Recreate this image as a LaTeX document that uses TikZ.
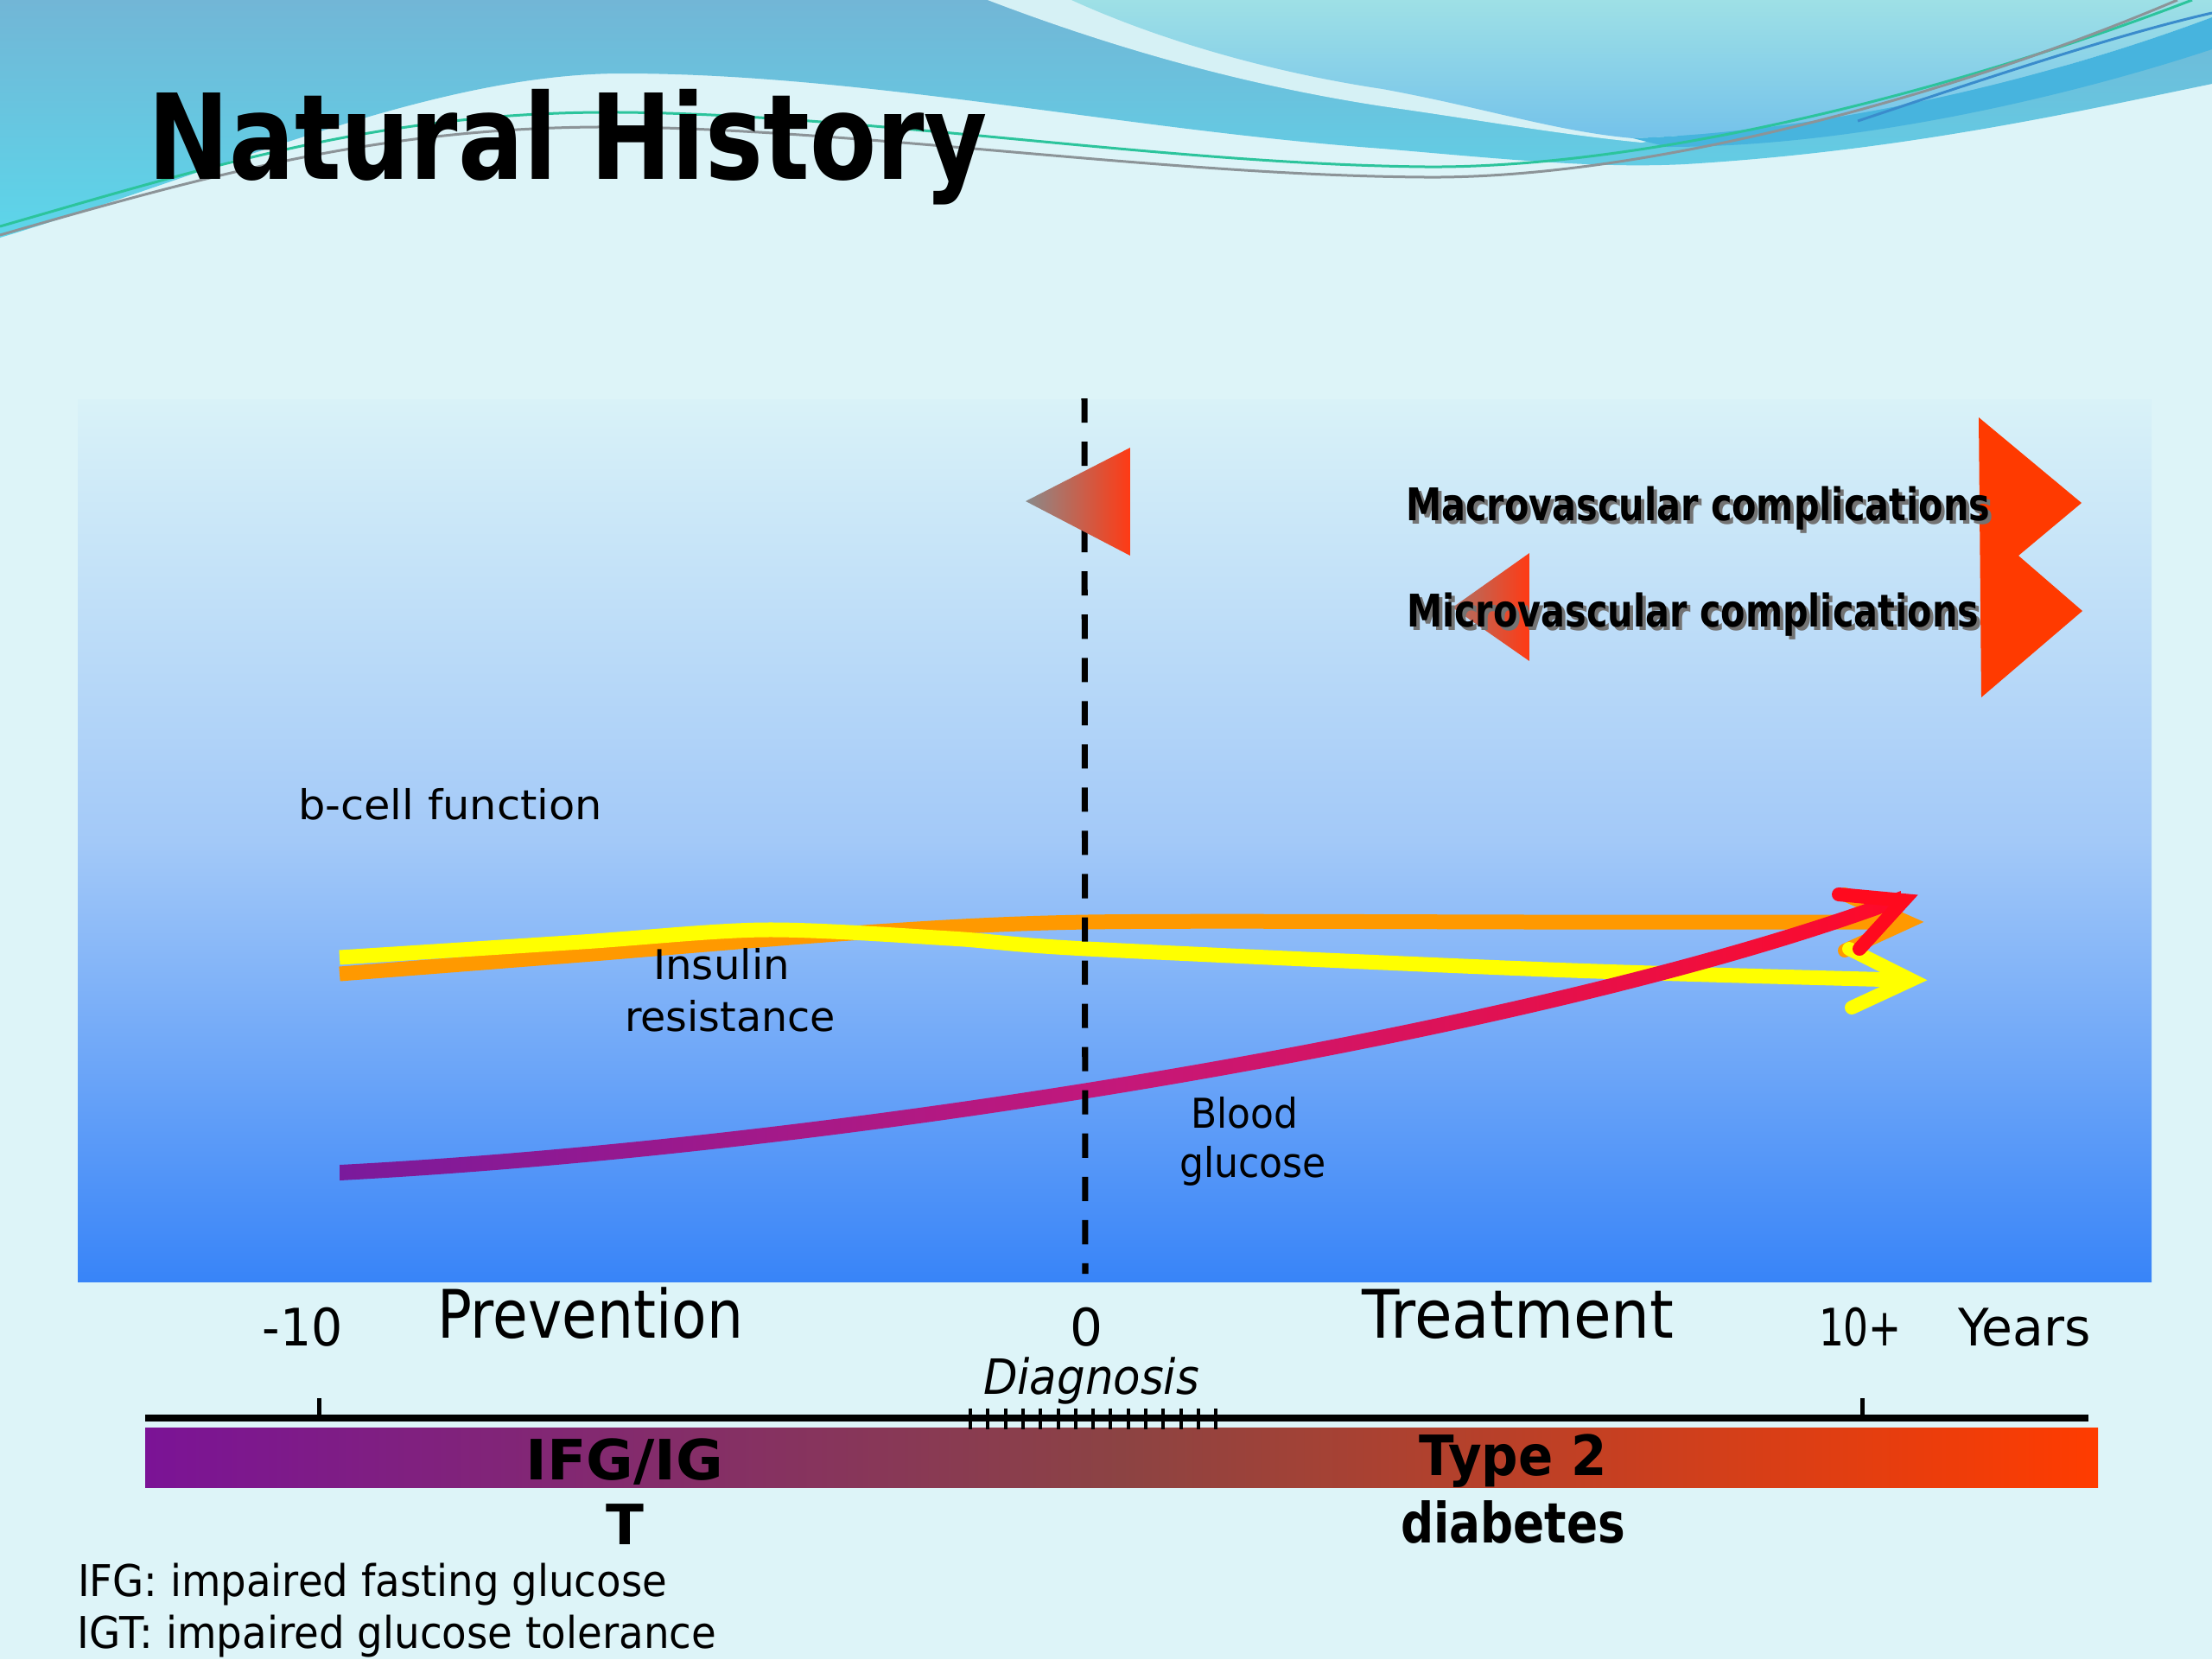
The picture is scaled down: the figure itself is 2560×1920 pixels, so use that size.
\documentclass[tikz,border=0pt]{standalone}
\usepackage{fontspec}
\setmainfont{DejaVu Sans}
\usepackage{graphicx}
\newdimen\pxu \pxu=0.01cm
\newcommand\fitw[2]{\resizebox{#1\pxu}{\height}{#2}}
\definecolor{bgc}{HTML}{DDF4F8}
\definecolor{topblue}{HTML}{72B6D6}
\definecolor{topcyan}{HTML}{5CD6EA}
\definecolor{stripec}{HTML}{D6F1F5}
\definecolor{tealtop}{HTML}{9EE0E6}
\definecolor{tealbot}{HTML}{74C2EA}
\definecolor{darkband}{HTML}{47B4DE}
\definecolor{wavegreen}{HTML}{2CC49C}
\definecolor{wavegrey}{HTML}{8C9498}
\definecolor{waveblue}{HTML}{3A8CCC}
\definecolor{pantop}{HTML}{D9F2F8}
\definecolor{panmid}{HTML}{A3C9F8}
\definecolor{panbot}{HTML}{3884F8}
\definecolor{trigray}{HTML}{8A8A8A}
\definecolor{trired}{HTML}{FF3A14}
\definecolor{bigred}{HTML}{FF3A00}
\definecolor{orangec}{HTML}{FF9900}
\definecolor{yellowc}{HTML}{FFFF00}
\definecolor{glul}{HTML}{7A1A9C}
\definecolor{glum}{HTML}{C4187A}
\definecolor{glur}{HTML}{FF0A28}
\definecolor{arrred}{HTML}{FF0A1E}
\definecolor{barl}{HTML}{7B1396}
\definecolor{barm}{HTML}{8C4343}
\definecolor{barr}{HTML}{FF3C00}
\begin{document}
\begin{tikzpicture}[x=0.01cm,y=-0.01cm,
  lbl/.style={inner sep=0pt, outer sep=0pt, text=black},
  curve/.style={line width=17\pxu, line cap=butt},
  head/.style={line width=16\pxu, line cap=round, line join=miter},
  fsize/.style={font=\fontsize{#1}{#1}\selectfont},
  fbold/.style={font=\fontsize{#1}{#1}\selectfont\bfseries}]
\useasboundingbox (0,0) rectangle (2560,1920);
\fill[bgc] (0,0) rectangle (2560,1920);
% top waves
\shade[top color=topblue, bottom color=topcyan] (0,0) -- (0,275)
  .. controls (250,200) and (500,85) .. (720,85)
  .. controls (1000,85) and (1300,150) .. (1600,172)
  .. controls (1750,185) and (1850,195) .. (1950,190)
  .. controls (2200,175) and (2400,130) .. (2560,97) -- (2560,0) -- cycle;
\fill[stripec] (1143,0) .. controls (1300,60) and (1450,100) .. (1600,123)
  .. controls (1720,140) and (1800,155) .. (1900,165) -- (2560,45) -- (2560,0) -- cycle;
\shade[top color=tealtop, bottom color=tealbot] (1240,0)
  .. controls (1350,50) and (1480,85) .. (1600,103)
  .. controls (1720,125) and (1800,152) .. (1890,160)
  .. controls (2150,150) and (2400,80) .. (2560,20) -- (2560,0) -- cycle;
\fill[darkband] (1890,160) .. controls (2150,150) and (2400,80) .. (2560,20)
  -- (2560,57) .. controls (2400,110) and (2150,170) .. (1930,170) -- cycle;
\draw[wavegreen, line width=3\pxu] (0,262) .. controls (250,190) and (450,128) .. (718,130)
  .. controls (1000,132) and (1350,190) .. (1650,193)
  .. controls (1900,195) and (2250,110) .. (2537,0);
\draw[wavegrey, line width=3\pxu] (0,272) .. controls (250,200) and (450,145) .. (718,147)
  .. controls (1000,150) and (1350,203) .. (1650,205)
  .. controls (1900,207) and (2250,115) .. (2520,0);
\draw[waveblue, line width=3\pxu] (2150,140) .. controls (2300,90) and (2450,40) .. (2560,15);
\node[lbl, anchor=base west, fbold=39] (title) at (171,207) {\fitw{972}{Natural History}};
% panel
\shade[top color=pantop, bottom color=panbot, middle color=panmid] (90,462) rectangle (2490,1483);
% curves
\draw[curve, orangec] plot[smooth] coordinates {(393,1127) (673,1105) (984,1080) (1258,1067) (1792,1067) (2195,1067)};
\draw[head, orangec] (2135,1035) -- (2207,1067) -- (2135,1100);
\draw[curve, yellowc] plot[smooth] coordinates {(393,1108) (673,1090) (885,1076) (1100,1086) (1258,1098) (1792,1122) (2200,1134)};
\draw[head, yellowc] (2140,1098) -- (2212,1134) -- (2143,1166);
\shade[left color=glul, right color=glur, middle color=glum] (393,1348)
  .. controls (1000,1316) and (1800,1181) .. (2200,1031) -- (2200,1049)
  .. controls (1800,1199) and (1000,1334) .. (393,1366) -- cycle;
\draw[head, arrred] (2128,1035) -- (2203,1042) -- (2152,1098);
% diagnosis dashed line
\draw[line width=2pt, dash pattern=on 7.97pt off 6.26pt] (1255,461) -- (1256,1474);
% complication triangles
\shade[left color=trigray, right color=trired] (1187,580) -- (1308,518) -- (1308,643) -- cycle;
\shade[left color=trigray!70!trired, right color=trired] (1681,703) -- (1770,640) -- (1770,765) -- cycle;
\fill[bigred] (2290,483) -- (2409,582) -- (2336,643) -- (2410,707) -- (2293,807) -- cycle;
\node[lbl, anchor=base west, fbold=14.8, text=black!55] (macrosh) at (1631,606) {\fitw{676}{Macrovascular complications}};
\node[lbl, anchor=base west, fbold=14.8] (macro) at (1627,602) {\fitw{676}{Macrovascular complications}};
\node[lbl, anchor=base west, fbold=14.8, text=black!55] (microsh) at (1632,729) {\fitw{662}{Microvascular complications}};
\node[lbl, anchor=base west, fbold=14.8] (micro) at (1628,725) {\fitw{662}{Microvascular complications}};
% curve labels
\node[lbl, anchor=base west, fsize=13.5] (bcell) at (345,948) {\fitw{352}{b-cell function}};
\node[lbl, anchor=base, fsize=13.5] (ins1) at (835,1133) {\fitw{158}{Insulin}};
\node[lbl, anchor=base, fsize=13.5] (ins2) at (845,1193) {\fitw{244}{resistance}};
\node[lbl, anchor=base, fsize=13.5] (bg1) at (1440,1305) {\fitw{124}{Blood}};
\node[lbl, anchor=base, fsize=13.5] (bg2) at (1450,1362) {\fitw{170}{glucose}};
% timeline labels
\node[lbl, anchor=base, fsize=17] (m10) at (350,1557) {\fitw{93}{-10}};
\node[lbl, anchor=base, fsize=22] (prev) at (683,1548) {\fitw{354}{Prevention}};
\node[lbl, anchor=base, fsize=17] (zero) at (1258,1557) {0};
\node[lbl, anchor=base, fsize=22] (treat) at (1757,1548) {\fitw{361}{Treatment}};
\node[lbl, anchor=base, fsize=17] (ten) at (2153,1557) {\fitw{96}{10+}};
\node[lbl, anchor=base, fsize=17] (years) at (2343,1557) {\fitw{154}{Years}};
\node[lbl, anchor=base, font=\fontsize{16}{16}\selectfont\itshape] (diag) at (1263,1613) {\fitw{250}{Diagnosis}};
% axis
\draw[line width=8\pxu] (168,1641) -- (2417,1641);
\draw[line width=5\pxu] (369,1618) -- (369,1641);
\draw[line width=5\pxu] (2155,1618) -- (2155,1641);
\shade[left color=barl, right color=barr, middle color=barm] (168,1652) rectangle (2428,1721);
\foreach \i in {0,...,14} \draw[line width=4\pxu] ({1123+\i*20.3},1630) -- ++(0,24);
\node[lbl, anchor=base, fbold=18.3] (ifg1) at (723,1712) {\fitw{229}{IFG/IG}};
\node[lbl, anchor=base, fbold=18.3] (ifg2) at (723,1787) {T};
\node[lbl, anchor=base, fbold=18.3] (t2a) at (1751,1707) {\fitw{217}{Type 2}};
\node[lbl, anchor=base, fbold=18.3] (t2b) at (1751,1785) {\fitw{260}{diabetes}};
% footnotes
\node[lbl, anchor=base west, fsize=14.4] (fn1) at (90,1847) {\fitw{682}{IFG: impaired fasting glucose}};
\node[lbl, anchor=base west, fsize=14.4] (fn2) at (90,1907) {\fitw{739}{IGT: impaired glucose tolerance}};
\end{tikzpicture}
\end{document}
